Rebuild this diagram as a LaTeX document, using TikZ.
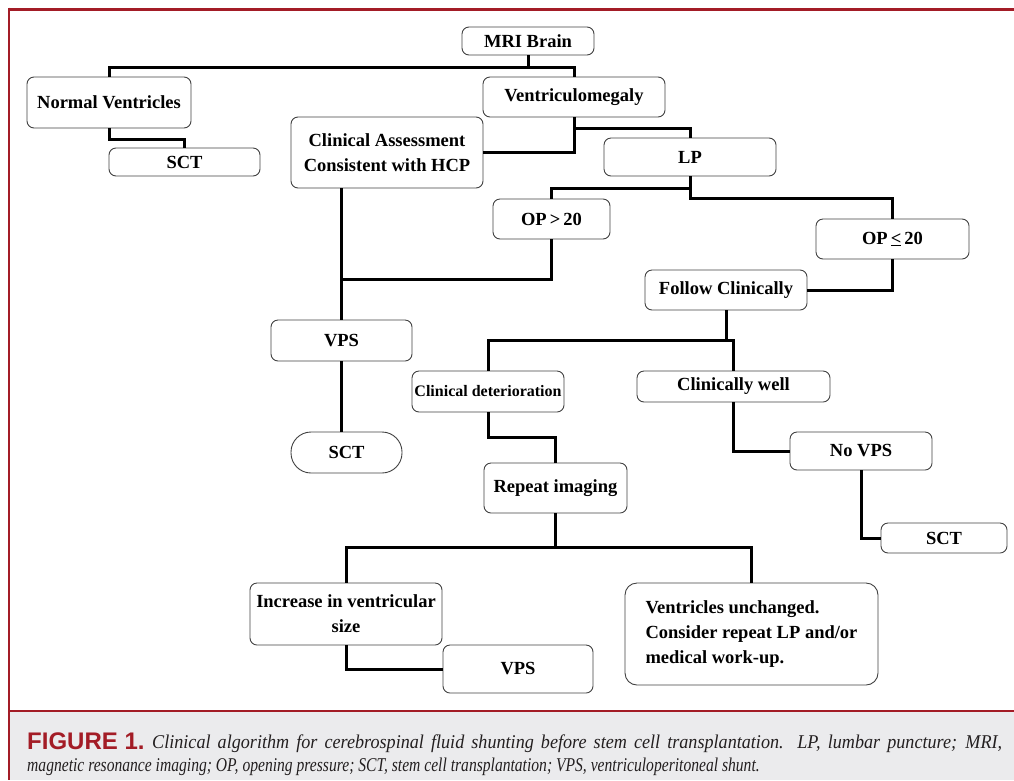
\documentclass[tikz,border=0pt]{standalone}
\usepackage{fontspec}
\setmainfont{Liberation Serif}
\newfontfamily\capsans{Liberation Sans}
\newfontfamily\capit{Liberation Serif}[FakeStretch=0.8]
\newfontfamily\capitwide{Liberation Serif}[FakeStretch=0.93]
\definecolor{figred}{RGB}{163,28,38}
\definecolor{capbg}{RGB}{235,235,237}
\definecolor{captext}{RGB}{35,31,32}
\begin{document}
\begin{tikzpicture}[x=1pt,y=-1pt,
  bx/.style={draw=black!75, line width=0.9pt, rounded corners=7pt, inner sep=0pt, align=center,
    font=\fontsize{18.5}{25}\selectfont\bfseries},
  conn/.style={line width=3pt, line join=miter, black},
  capline/.style={inner sep=0pt, anchor=base west, text=captext,
    font=\capit\fontsize{19.5}{22}\selectfont\itshape}]
\useasboundingbox (0,0) rectangle (1014,780);
% frame
\fill[capbg] (10,712) rectangle (1014,780);
\draw[figred, line width=3pt] (9,9) -- (1014,9);
\draw[figred, line width=2.5pt] (9,7.5) -- (9,780);
\draw[figred, line width=2.5pt] (9,711) -- (1014,711);
% nodes
\node[bx, minimum width=132, minimum height=28] (mri) at (528,41) {MRI Brain};
\node[bx, minimum width=164, minimum height=51] (nv) at (109,102.5) {Normal Ventricles};
\node[bx, minimum width=151, minimum height=28] (sct1) at (184.5,162) {SCT};
\node[bx, minimum width=182, minimum height=40] (vm) at (574,97) {Ventriculomegaly};
\node[bx, minimum width=192, minimum height=71] (ca) at (387,152.5) {Clinical Assessment\\Consistent with HCP};
\node[bx, minimum width=172, minimum height=38] (lp) at (690,157) {LP};
\node[bx, minimum width=117, minimum height=40] (opg) at (551.5,219) {OP\,>\,20};
\node[bx, minimum width=153, minimum height=40] (ople) at (892.5,239) {OP\,\underline{<}\,20};
\node[bx, minimum width=162, minimum height=40] (fc) at (726,290) {Follow Clinically};
\node[bx, minimum width=141, minimum height=41] (vps1) at (341.5,340.5) {VPS};
\node[bx, minimum width=111, minimum height=41, rounded corners=20pt] (sct2) at (346.5,452.5) {SCT};
\node[bx, minimum width=152, minimum height=41, font=\fontsize{16}{18}\selectfont\bfseries] (cd) at (488,391.5) {Clinical deterioration};
\node[bx, minimum width=193, minimum height=31] (cw) at (733.5,386.5) {Clinically well};
\node[bx, minimum width=142, minimum height=38] (novps) at (861,451) {No VPS};
\node[bx, minimum width=126, minimum height=30] (sct3) at (944,538) {SCT};
\node[bx, minimum width=143, minimum height=50] (ri) at (555.5,488) {Repeat imaging};
\node[bx, minimum width=192, minimum height=62] (inc) at (346,614) {Increase in ventricular\\size};
\node[bx, minimum width=150, minimum height=48] (vps2) at (518,669) {VPS};
\node[bx, minimum width=253, minimum height=102, align=left, rounded corners=12pt] (vu) at (751.5,634) {Ventricles unchanged.\\Consider repeat LP and/or\\medical work-up.};
% connectors
\draw[conn] (mri.south) -- (mri.south |- 0,67);
\draw[conn] (nv.north) |- (vm.north |- 0,67) -- (vm.north);
\draw[conn] (nv.south) -- (nv.south |- 0,139) -| (sct1.north);
\draw[conn] (vm.south) |- (ca.east);
\draw[conn] (vm.south |- 0,128) -| (lp.north);
\draw[conn] (lp.south) -- (lp.south |- 0,198) -| (ople.north);
\draw[conn] (lp.south |- 0,188) -| (opg.north);
\draw[conn] (ca.south -| vps1.north) -- (vps1.north);
\draw[conn] (opg.south) |- (vps1.north |- 0,279);
\draw[conn] (vps1.south) -- (vps1.south |- sct2.north);
\draw[conn] (ople.south) |- (fc.east);
\draw[conn] (fc.south) -- (fc.south |- 0,340);
\draw[conn] (cd.north) |- (cw.north |- 0,340) -- (cw.north);
\draw[conn] (cd.south) -- (cd.south |- 0,437) -| (ri.north);
\draw[conn] (cw.south) |- (novps.west);
\draw[conn] (novps.south) |- (sct3.west);
\draw[conn] (ri.south) -- (ri.south |- 0,547);
\draw[conn] (inc.north) |- (vu.north |- 0,547) -- (vu.north);
\draw[conn] (inc.south) |- (vps2.west);
% caption
\node[inner sep=0pt, anchor=base west, text=figred, font=\fontsize{24}{26}\selectfont\capsans\bfseries] (capfig) at (27,749) {FIGURE 1.};
\node[capline, font=\capitwide\fontsize{19.5}{22}\selectfont\itshape] (cap1) at (152,748) {\makebox[850pt][s]{Clinical algorithm for cerebrospinal fluid shunting before stem cell transplantation. LP, lumbar puncture; MRI,}};
\node[capline] (cap2) at (27,771) {magnetic resonance imaging; OP, opening pressure; SCT, stem cell transplantation; VPS, ventriculoperitoneal shunt.};
\end{tikzpicture}
\end{document}
